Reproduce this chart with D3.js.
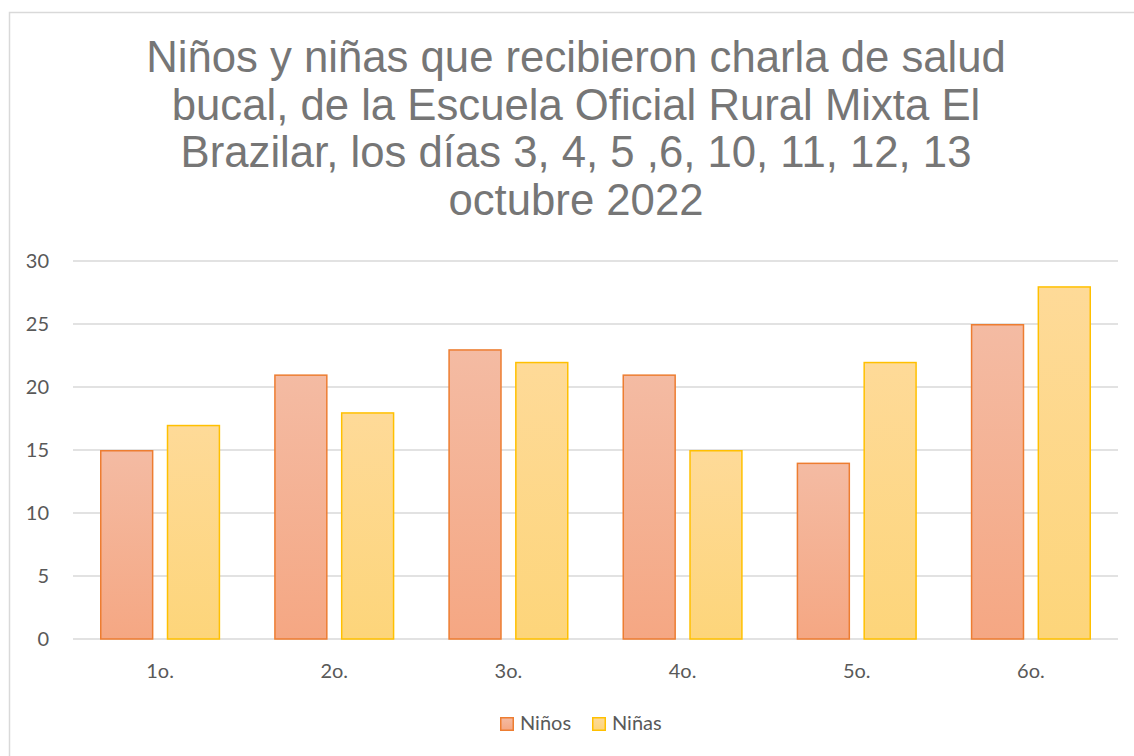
<!DOCTYPE html>
<html><head><meta charset="utf-8">
<script src="https://cdn.jsdelivr.net/npm/d3@7"></script>
<style>body{margin:0;background:#fff;}svg{display:block;}</style>
</head><body>
<script>
const categories = ["1o.", "2o.", "3o.", "4o.", "5o.", "6o."];
const ninos = [15, 21, 23, 21, 14, 25];
const ninas = [17, 18, 22, 15, 22, 28];
const seriesNames = ["Niños", "Niñas"];
const yTicks = [0, 5, 10, 15, 20, 25, 30];
const titleLines = ["Niños y niñas que recibieron charla de salud",
  "bucal, de la Escuela Oficial Rural Mixta El",
  "Brazilar, los días 3, 4, 5 ,6, 10, 11, 12, 13",
  "octubre 2022"];

const W = 1134, H = 756;
const svg = d3.select("body").append("svg").attr("width", W).attr("height", H);
const defs = svg.append("defs");
const g1 = defs.append("linearGradient").attr("id","gN").attr("x1",0).attr("y1",0).attr("x2",0).attr("y2",1);
g1.append("stop").attr("offset","0%").attr("stop-color","#F4BBA3");
g1.append("stop").attr("offset","100%").attr("stop-color","#F5A783");
const g2 = defs.append("linearGradient").attr("id","gF").attr("x1",0).attr("y1",0).attr("x2",0).attr("y2",1);
g2.append("stop").attr("offset","0%").attr("stop-color","#FEDA98");
g2.append("stop").attr("offset","100%").attr("stop-color","#FDD57A");

svg.append("rect").attr("x",9.5).attr("y",12.5).attr("width",W+20).attr("height",H+20)
  .attr("fill","#fff").attr("stroke","#D9D9D9").attr("stroke-width",1.5);

const fills = ["url(#gN)","url(#gF)"];
const strokes = ["#ED7D31","#FFC000"];
const lblFont = "Lato, 'Open Sans', sans-serif";

const title = svg.append("text").attr("text-anchor","middle")
  .attr("font-family","'Liberation Sans', Arial, sans-serif").attr("font-size",43.7).attr("fill","#767676");
titleLines.forEach((t,i)=>title.append("tspan").attr("x",576).attr("y",72+i*47.7).text(t));

const x0 = d3.scaleBand().domain(categories).range([73,1118]).paddingInner(0).paddingOuter(0);
const x1 = d3.scaleBand().domain(seriesNames).range([27, x0.bandwidth()-27]).paddingInner(0.2);
const y = d3.scaleLinear().domain([0,30]).range([639,261]);

const grid = svg.append("g");
yTicks.forEach(t=>{
  grid.append("line").attr("x1",73).attr("x2",1118).attr("y1",y(t)).attr("y2",y(t))
    .attr("stroke","#D9D9D9").attr("stroke-width",1.5);
  svg.append("text").attr("x",49).attr("y",y(t)+7).attr("text-anchor","end")
    .attr("font-family",lblFont).attr("font-size",20).attr("fill","#595959").text(t);
});

const data = categories.map((c,i)=>({c, vals:[ninos[i], ninas[i]]}));
const grp = svg.append("g").selectAll("g").data(data).join("g")
  .attr("transform",d=>`translate(${x0(d.c)},0)`);
grp.selectAll("rect").data(d=>d.vals.map((v,j)=>({v,j}))).join("rect")
  .attr("x",d=>x1(seriesNames[d.j])+0.75).attr("y",d=>y(d.v)+0.75)
  .attr("width",x1.bandwidth()-1.5).attr("height",d=>y(0)-y(d.v)-0.75)
  .attr("fill",d=>fills[d.j]).attr("stroke",d=>strokes[d.j]).attr("stroke-width",1.5);

categories.forEach(c=>{
  svg.append("text").attr("x",x0(c)+x0.bandwidth()/2).attr("y",678).attr("text-anchor","middle")
    .attr("font-family",lblFont).attr("font-size",20).attr("fill","#595959").text(c);
});

const leg = [{x:500, name:seriesNames[0], j:0},{x:592, name:seriesNames[1], j:1}];
leg.forEach(l=>{
  svg.append("rect").attr("x",l.x+0.75).attr("y",717.75).attr("width",12.5).attr("height",12.5)
    .attr("fill",fills[l.j]).attr("stroke",strokes[l.j]).attr("stroke-width",1.5);
  svg.append("text").attr("x",l.x+20).attr("y",730).attr("font-family",lblFont)
    .attr("font-size",20).attr("fill","#595959").text(l.name);
});
</script>
</body></html>
